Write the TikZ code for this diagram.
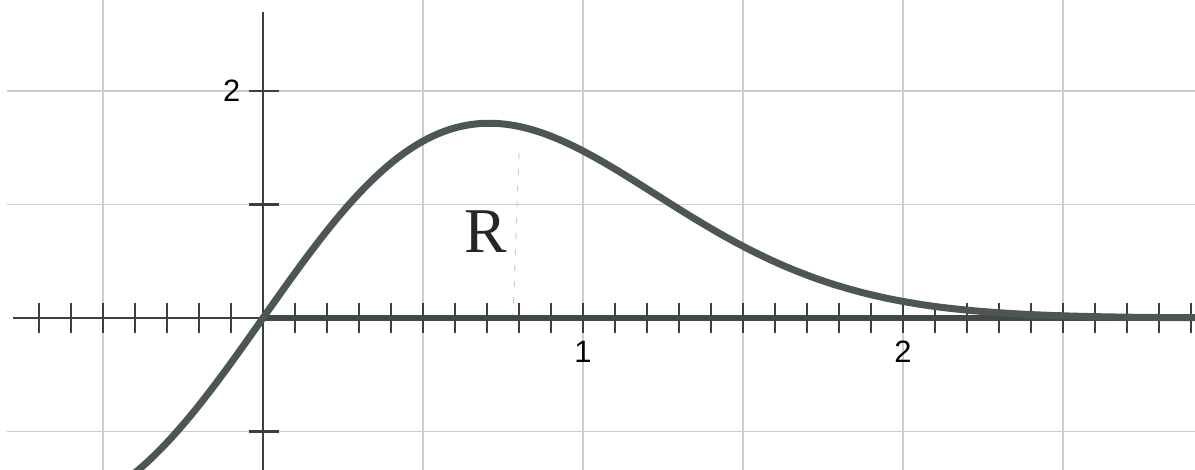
\documentclass[tikz,border=0pt]{standalone}
\usepackage{fontspec}
\newfontfamily\labelfont{Liberation Sans}
\newfontfamily\rfont{Liberation Serif}
\definecolor{gridgray}{HTML}{CDCDCD}
\definecolor{axisgray}{HTML}{3E3E3E}
\definecolor{curvegray}{HTML}{4C5653}
\definecolor{faintred}{HTML}{F2B8BE}
\tikzset{
  gridline/.style={gridgray, line width=1.3bp},
  axisline/.style={axisgray, line width=2bp},
  tickmark/.style={axisgray, line width=2.2bp},
  curveline/.style={curvegray, line width=7bp, line cap=round},
  numlabel/.style={font=\labelfont\fontsize{31}{31}\selectfont, text=black, inner sep=0pt},
}
\begin{document}
\begin{tikzpicture}[x=320bp, y=113.5bp]
\useasboundingbox (-0.821875,-1.33921) rectangle (2.9125,2.80176);
\clip (-0.821875,-1.33921) rectangle (2.9125,2.80176);
% grid
\foreach \gx in {-0.5,0.5,1,1.5,2,2.5}
  \draw[gridline] (\gx,-1.4) -- (\gx,2.9);
\foreach \gy in {-1,1,2}
  \draw[gridline] (-0.8,\gy) -- (2.95,\gy);
% faint red dashed mark
\draw[faintred, line width=1bp, dashed, dash pattern=on 6bp off 10bp] (0.8,1.45) -- (0.78,-0.1);
% axes
\draw[axisline] (-0.78,0) -- (2.95,0);
\draw[axisline] (0,2.696) -- (0,-1.4);
% x ticks
\foreach \i in {-7,...,29}
  \draw[tickmark] (\i/10,-0.132) -- (\i/10,0.132);
% y ticks
\foreach \j in {-1,1,2}
  \draw[tickmark] (-0.045,\j) -- (0.05,\j);
% thick positive x-axis
\draw[curvegray!85!black, line width=5bp] (0,0) -- (2.95,0);
% curve
\draw[curveline] plot[domain=-0.45:2.95, samples=200, smooth] (\x,{4*\x*exp(-\x*\x)});
% labels
\node[numlabel] (ytwo) at (-0.098,2.0) {2};
\node[numlabel] (xone) at (1.0,-0.3) {1};
\node[numlabel] (xtwo) at (2.0,-0.3) {2};
\node[font=\rfont\fontsize{64}{64}\selectfont, text=black!85, inner sep=0pt] (regionR) at (0.695,0.76) {R};
\end{tikzpicture}
\end{document}
